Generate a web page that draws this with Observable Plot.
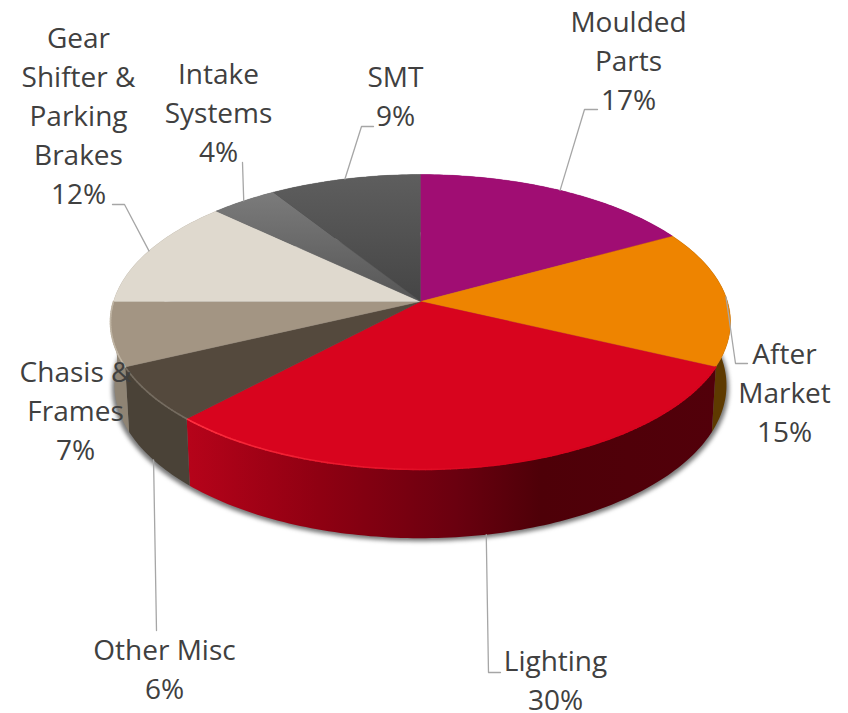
<!DOCTYPE html>
<html>
<head>
<meta charset="utf-8">
<style>html,body{margin:0;padding:0;background:#fff}svg{display:block}</style>
<script src="https://cdn.jsdelivr.net/npm/d3@7"></script>
<script src="https://cdn.jsdelivr.net/npm/@observablehq/plot@0.6"></script>
</head>
<body>
<script>
// ---- data ----
const categories = ["Moulded Parts","After Market","Lighting","Other Misc","Chasis & Frames","Gear Shifter & Parking Brakes","Intake Systems","SMT"];
const shares = [17,15,30,6,7,12,4,9];
const labelLines = [["Moulded","Parts"],["After","Market"],["Lighting"],["Other Misc"],["Chasis &","Frames"],["Gear","Shifter &","Parking","Brakes"],["Intake","Systems"],["SMT"]];
// ---- styles and layout ----
const topFills = ["#a00d73","#ee8400","#d8041e","#54493d","#a39583","#dfd9ce","url(#gIntake)","url(#gSmt)"];
const wallFills = ["#6e0950","#5e3a00","url(#gLighting)","#4a4237","#8f8474","#8f8474","#555","#444"];
const labelCentreX = [628,784,555,164,75,78,218,395];
const labelLastBaseline = [109,441,709,698,459,203,161,125];
const leaderBends = [[[584,109],[597,109]],[[735,363],[747,363]],[[488,672],[500,672]],[[156,630]],null,[[124,204],[112,204]],[[242,162]],[[361,126],[373,126]]];
const leaderOnFloor = [false,false,true,true,false,false,false,false];
const lightingStops = [[0,"#b6031a"],[0.25,"#8f0012"],[0.51,"#6a000f"],[0.67,"#4e0008"],[1,"#52000a"]];
const rimRamps = {2:["#ff3040","#d8041e"],3:["#756c60","#655b4f"],4:["#bfb4a3","#b0a392"]};

// ---- projection of the tilted disc ----
const cx = 420, cy = 301, k = 0.139;
const project = (t, R, S, d) => {
  const u = Math.sin(t), v = -Math.cos(t), w = 1 - k * v;
  return {x: cx + R * u / w, y: cy + d + S * v / w};
};
const topAt = t => project(t, 307, 144.6, 0);
const floorAt = t => project(t, 303, 150, 62.5);
const total = d3.sum(shares);
const cum = d3.cumsum(shares);
const ang = p => p / total * 2 * Math.PI;
const slices = shares.map((s, i) => ({i, a0: ang(cum[i] - s), a1: ang(cum[i]), mid: ang(cum[i] - s / 2)}));
const steps = (a0, a1) => {
  const n = Math.max(2, Math.ceil((a1 - a0) / (Math.PI / 180)));
  return d3.range(n + 1).map(j => a0 + (a1 - a0) * j / n);
};

// walls: one polygon per slice
const wallMarks = slices.map(sl => {
  const ts = steps(sl.a0, sl.a1);
  const pts = [...ts.map(topAt), ...ts.slice().reverse().map(floorAt)];
  return Plot.line(pts, {x: "x", y: "y", fill: wallFills[sl.i], stroke: "none", curve: "linear"});
});
// shadow under the body
const shadowRows = steps(0, 2 * Math.PI).map(t => {
  const p = floorAt(t);
  return {x: cx + (p.x - cx) * 1.008, y: p.y + 3};
});
// rim highlights
const rimRows = [];
slices.filter(sl => rimRamps[sl.i]).forEach(sl => {
  const ts = steps(sl.a0, sl.a1), r = rimRamps[sl.i];
  for (let j = 0; j < ts.length - 1; j++) {
    const f = sl.i === 2 ? 1 - (ts[j] - sl.a0) / (sl.a1 - sl.a0) : 0;
    const c = d3.interpolateRgb(r[0], r[1])(sl.i === 2 ? Math.min(1, f * 1.9) : 0);
    const seg = sl.i + "-" + j;
    [topAt(ts[j]), topAt(ts[j+1])].forEach(q => rimRows.push({seg, x: q.x, y: q.y, c}));
  }
});
// tops
const topMarks = slices.map(sl => {
  const pts = [{x: cx, y: cy}, ...steps(sl.a0, sl.a1).map(topAt)];
  return Plot.line(pts, {x: "x", y: "y", fill: topFills[sl.i], stroke: topFills[sl.i], strokeWidth: 0.4, curve: "linear"});
});
// leaders
const leaderRows = [];
slices.forEach(sl => {
  const bends = leaderBends[sl.i];
  if (!bends) return;
  const s = leaderOnFloor[sl.i] ? floorAt(sl.mid) : topAt(sl.mid);
  [s, ...bends.map(([x, y]) => ({x, y}))].forEach(q => leaderRows.push({i: sl.i, x: q.x, y: q.y}));
});
// labels
const labelRows = [];
categories.forEach((c, i) => {
  const lines = [...labelLines[i], shares[i] + "%"];
  lines.forEach((text, j) => labelRows.push({text, x: labelCentreX[i], y: labelLastBaseline[i] - (lines.length - 1 - j) * 39}));
});

const defs = () => {
  const d = d3.create("svg:defs");
  const grad = (id, stops, horizontal) => {
    const g = d.append("linearGradient").attr("id", id).attr("x1", 0).attr("y1", 0).attr("x2", horizontal ? 1 : 0).attr("y2", horizontal ? 0 : 1);
    stops.forEach(([o, c]) => g.append("stop").attr("offset", o).attr("stop-color", c));
  };
  grad("gIntake", [[0, "#7b7b7b"], [1, "#565656"]]);
  grad("gSmt", [[0, "#5e5e5e"], [1, "#454545"]]);
  grad("gLighting", lightingStops, true);
  return d.node();
};

const chart = Plot.plot({
  width: 848, height: 713, margin: 0,
  x: {domain: [0, 848], axis: null},
  y: {domain: [713, 0], axis: null},
  style: {background: "#fff"},
  marks: [
    defs,
    Plot.line(shadowRows, {x: "x", y: "y", fill: "#555", fillOpacity: 0.8, stroke: "none", curve: "linear", imageFilter: "blur(2px)"}),
    ...wallMarks,
    ...topMarks,
    Plot.line(rimRows, {x: "x", y: "y", z: "seg", stroke: d => d.c, strokeWidth: 1.6, curve: "linear"}),
    Plot.line(leaderRows, {x: "x", y: "y", z: "i", stroke: "#a6a6a6", strokeWidth: 1.3, curve: "linear"}),
    Plot.text(labelRows, {x: "x", y: "y", text: "text", lineAnchor: "bottom", textAnchor: "middle", fontSize: 28, fontFamily: "'Open Sans'", fill: "#404040"})
  ]
});
document.body.appendChild(chart);
</script>
</body>
</html>
